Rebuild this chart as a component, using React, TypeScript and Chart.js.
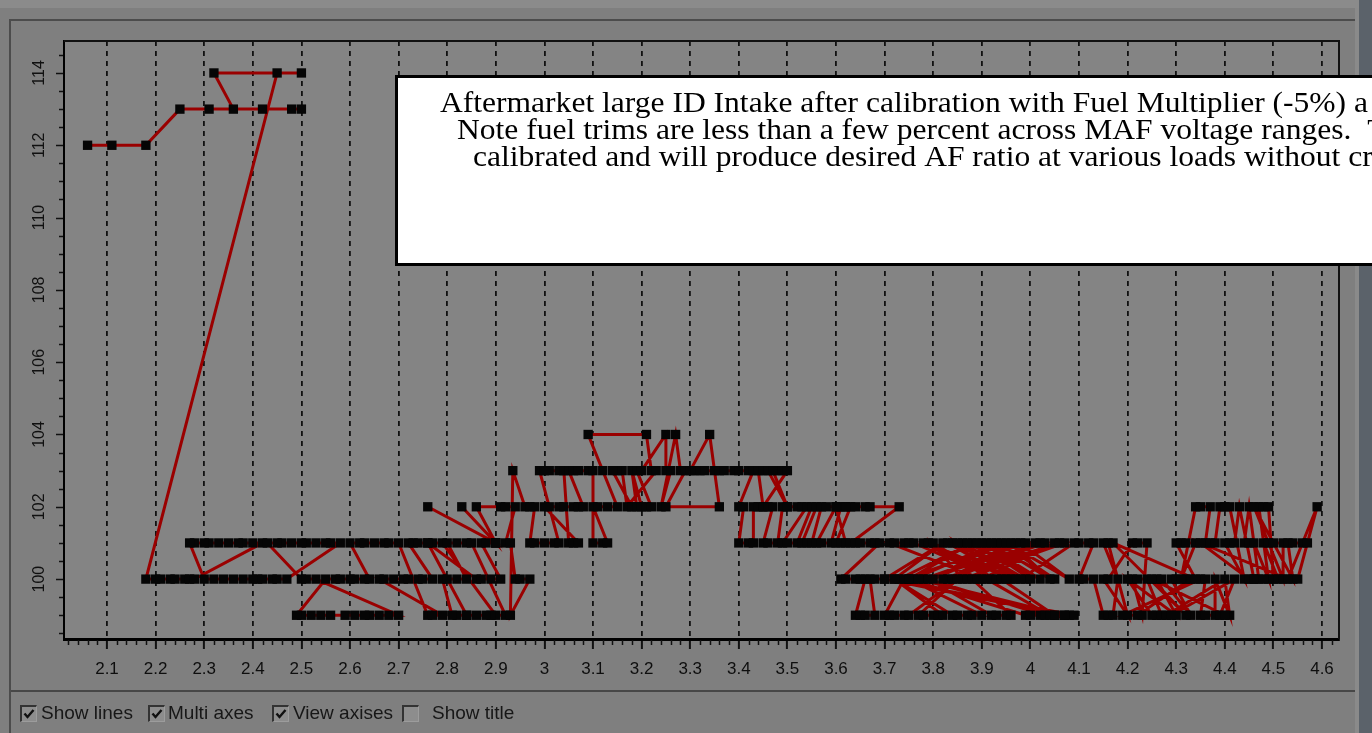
import React, { useEffect, useRef } from 'react';
import { Chart, registerables } from 'chart.js';

Chart.register(...registerables);

// Each run: [fuel trim level, MAF volts logged at that level, in log order]
type Run = [number, number[]];

const coldStart: Run[] = [
  [112, [2.06, 2.11, 2.18]],
  [113, [2.25, 2.31, 2.42, 2.5, 2.48, 2.36]],
  [114, [2.32, 2.5, 2.45]],
];

const idleLow: Run[] = [
  [100, [2.18, 2.2, 2.21, 2.23, 2.24, 2.26, 2.27, 2.28]],
  [101, [2.42, 2.4, 2.38, 2.37, 2.35, 2.33, 2.31, 2.3, 2.28, 2.27]],
  [100, [2.3, 2.32, 2.34, 2.36, 2.38, 2.4, 2.41, 2.42, 2.44, 2.45, 2.47]],
  [101, [2.58, 2.56, 2.55, 2.53, 2.51, 2.5, 2.48, 2.46, 2.45, 2.43]],
  [100, [2.5, 2.51, 2.53]],
  [99, [2.7, 2.68, 2.66, 2.64, 2.63, 2.61, 2.59, 2.56, 2.54, 2.52, 2.5, 2.49]],
  [100, [2.55, 2.57, 2.58, 2.6, 2.61, 2.63, 2.64]],
  [101, [2.6, 2.62, 2.63, 2.65, 2.67, 2.68, 2.7]],
  [99, [2.76, 2.77, 2.79]],
  [100, [2.66, 2.67, 2.69, 2.71, 2.72, 2.74, 2.75, 2.77]],
  [101, [2.72, 2.73, 2.74, 2.76, 2.77, 2.79]],
  [99, [2.9, 2.89, 2.88, 2.86, 2.84, 2.82, 2.81]],
  [100, [2.79, 2.8, 2.82, 2.84]],
  [101, [2.8, 2.82, 2.84, 2.85]],
  [99, [2.92, 2.84]],
  [101, [2.76]],
  [100, [2.86, 2.87, 2.89, 2.91]],
  [101, [2.87, 2.88, 2.9]],
  [102, [2.76]],
  [101, [2.9]],
  [102, [2.83]],
  [101, [2.9]],
  [102, [2.86, 2.91, 2.92, 2.94]],
  [101, [2.92, 2.93]],
  [100, [2.94, 2.95, 2.97]],
  [99, [2.93]],
  [103, [2.935]],
];

const midLoad: Run[] = [
  [102, [2.96, 2.97, 2.98]],
  [101, [2.97, 2.98, 3.0, 3.02, 3.03]],
  [103, [2.99, 3.0, 3.01, 3.03, 3.04]],
  [101, [3.05, 3.06, 3.07]],
  [102, [3.0, 3.01, 3.03, 3.04, 3.06, 3.07, 3.08]],
  [103, [3.05, 3.06, 3.07, 3.09, 3.1]],
  [101, [3.1, 3.12, 3.13]],
  [102, [3.1, 3.11, 3.13, 3.15]],
  [103, [3.12]],
  [104, [3.09, 3.21]],
  [103, [3.22, 3.23]],
  [102, [3.17]],
  [103, [3.16, 3.15, 3.14]],
  [102, [3.18, 3.19]],
  [103, [3.18]],
  [102, [3.2, 3.21, 3.22]],
  [103, [3.19, 3.2]],
  [104, [3.25]],
  [103, [3.25, 3.26]],
  [102, [3.24]],
  [104, [3.27]],
  [103, [3.28, 3.29]],
  [102, [3.25, 3.36]],
  [104, [3.34]],
  [103, [3.3, 3.31, 3.32, 3.33, 3.35, 3.36, 3.37]],
];

const cruise: Run[] = [
  [103, [3.39, 3.4, 3.42, 3.43]],
  [102, [3.4, 3.41]],
  [101, [3.4, 3.42, 3.43]],
  [102, [3.43, 3.44, 3.45]],
  [103, [3.44, 3.45, 3.46]],
  [102, [3.5]],
  [103, [3.47, 3.48, 3.49, 3.5]],
  [102, [3.45, 3.46, 3.47]],
  [101, [3.45, 3.46, 3.48]],
  [102, [3.49, 3.5, 3.52, 3.53, 3.54]],
  [101, [3.49, 3.5, 3.52]],
  [102, [3.55, 3.56]],
  [101, [3.53, 3.54, 3.55]],
  [102, [3.57, 3.58, 3.6]],
  [101, [3.56, 3.57, 3.59]],
  [102, [3.61, 3.62, 3.63]],
  [101, [3.6, 3.61, 3.62]],
  [102, [3.6, 3.62, 3.64, 3.66, 3.67, 3.73]],
  [101, [3.63, 3.64, 3.65, 3.67, 3.68, 3.69]],
  [100, [3.61, 3.62, 3.64, 3.65, 3.66]],
];

const denseCruise: Run[] = [
  [99, [3.64, 3.65, 3.66, 3.68]],
  [100, [3.67, 3.68, 3.7]],
  [101, [3.82]],
  [100, [3.72, 3.73]],
  [101, [3.88]],
  [100, [3.75, 3.76]],
  [101, [3.93]],
  [100, [3.8]],
  [101, [3.97]],
  [100, [3.83, 3.84]],
  [101, [4.01]],
  [100, [3.87]],
  [101, [4.05]],
  [100, [3.9]],
  [101, [3.71, 3.72, 3.74, 3.75, 3.76]],
  [100, [3.93]],
  [101, [3.78, 3.79]],
  [100, [3.96]],
  [101, [3.83, 3.84]],
  [100, [3.99]],
  [101, [3.86, 3.87]],
  [100, [4.02]],
  [101, [3.9, 3.91]],
  [100, [4.05]],
  [101, [3.94, 3.95]],
  [100, [4.08]],
  [101, [3.98, 3.99]],
  [100, [3.78]],
  [101, [4.02, 4.03]],
  [100, [3.82]],
  [101, [4.06, 4.07]],
  [100, [3.86]],
  [101, [3.8]],
  [100, [3.92]],
  [101, [3.85]],
  [100, [3.97]],
  [101, [3.89]],
  [100, [4.0]],
  [101, [3.92]],
  [100, [4.04]],
  [101, [3.96]],
  [100, [3.74]],
  [99, [3.7, 3.71, 3.72, 3.74, 3.75]],
  [100, [3.85]],
  [99, [3.77, 3.78, 3.8, 3.81, 3.82]],
  [100, [3.72]],
  [99, [3.84, 3.85, 3.87, 3.88, 3.9]],
  [100, [3.75]],
  [99, [3.99, 4.0, 4.02, 4.03]],
  [100, [3.79]],
  [99, [3.92, 3.93, 3.95, 3.96]],
  [100, [3.88, 3.89, 3.91]],
  [99, [4.04, 4.05, 4.07, 4.08, 4.09]],
  [100, [3.7]],
  [99, [4.07]],
  [100, [3.77]],
  [99, [4.05]],
  [100, [3.94, 3.95, 3.98]],
  [101, [4.09, 4.1, 4.12, 4.13]],
];

const tipIn: Run[] = [
  [100, [4.1, 4.11, 4.13]],
  [99, [4.15, 4.16, 4.17]],
  [100, [4.18]],
  [101, [4.15, 4.16]],
  [99, [4.2]],
  [100, [4.15, 4.16]],
  [101, [4.21, 4.22, 4.24]],
  [99, [4.23]],
  [100, [4.21, 4.22, 4.24]],
  [99, [4.27, 4.26, 4.25]],
  [100, [4.2]],
  [99, [4.3]],
  [100, [4.26, 4.27]],
  [99, [4.33]],
  [100, [4.29, 4.3, 4.32, 4.33]],
  [99, [4.22, 4.19]],
  [100, [4.35, 4.36]],
  [99, [4.35, 4.36, 4.38]],
  [100, [4.38]],
  [99, [4.41]],
  [100, [4.4]],
  [99, [4.28, 4.29]],
  [100, [4.42]],
  [99, [4.39, 4.4]],
  [100, [4.25]],
  [99, [4.32]],
  [101, [4.17]],
  [100, [4.34]],
];

const highLoad: Run[] = [
  [101, [4.3, 4.31, 4.32, 4.34]],
  [100, [4.31]],
  [102, [4.34, 4.35, 4.37]],
  [101, [4.36, 4.37, 4.38]],
  [102, [4.39, 4.4, 4.41]],
  [100, [4.44]],
  [101, [4.4, 4.41, 4.42]],
  [102, [4.43]],
  [100, [4.46, 4.47]],
  [102, [4.45]],
  [101, [4.44, 4.45, 4.46]],
  [100, [4.49]],
  [102, [4.47, 4.48, 4.49]],
  [100, [4.5, 4.51]],
  [101, [4.48, 4.49, 4.5, 4.52]],
  [100, [4.52]],
  [102, [4.46]],
  [100, [4.54]],
  [101, [4.53, 4.54, 4.56, 4.57]],
  [100, [4.55]],
  [102, [4.59]],
  [100, [4.53]],
  [101, [4.35]],
  [100, [4.45, 4.46, 4.48]],
];

const logSegments: Run[][] = [coldStart, idleLow, midLoad, cruise, denseCruise, tipIn, highLoad];

const voltsRange = [2.0115, 4.635];
const trimRange = [98.343, 114.884];
const voltsStep = 0.1;
const trimStep = 2;

const noteLines = [
  'Aftermarket large ID Intake after calibration with Fuel Multiplier (-5%) a',
  'Note fuel trims are less than a few percent across MAF voltage ranges.  T',
  'calibrated and will produce desired AF ratio at various loads without cr',
];

const optionLabels = ['Show lines', 'Multi axes', 'View axises', 'Show title'];
const optionChecked = [true, true, true, false];

const W = 1372;
const H = 691;
const SANS = '"Liberation Sans", Arial, sans-serif';
const SERIF = '"Liberation Serif", "Times New Roman", Times, serif';

const framePlugin = {
  id: 'frame',
  beforeDraw(chart: any) {
    const { ctx, chartArea: a } = chart;
    ctx.save();
    ctx.fillStyle = '#7f7f7f';
    ctx.fillRect(0, 0, W, H);
    ctx.fillStyle = '#8b8b8b';
    ctx.fillRect(0, 0, W, 8);
    ctx.fillStyle = '#8a8a8a';
    ctx.fillRect(1355, 8, 5, H);
    ctx.fillStyle = '#5b626a';
    ctx.fillRect(1359, 0, W - 1359, H);
    ctx.strokeStyle = '#4c4c4c';
    ctx.lineWidth = 2;
    ctx.beginPath();
    ctx.moveTo(10, H);
    ctx.lineTo(10, 20);
    ctx.lineTo(1355, 20);
    ctx.stroke();
    ctx.fillStyle = '#848484';
    ctx.fillRect(a.left, a.top, a.right - a.left, a.bottom - a.top);
    ctx.restore();
  },
  afterDraw(chart: any) {
    const { ctx, chartArea: a } = chart;
    const xs = chart.scales.x;
    const ys = chart.scales.y;
    ctx.save();
    ctx.strokeStyle = '#111';
    ctx.lineWidth = 2;
    ctx.beginPath();
    ctx.moveTo(a.left, a.top);
    ctx.lineTo(a.right, a.top);
    ctx.lineTo(a.right, a.bottom);
    ctx.stroke();

    // minor x ticks
    ctx.lineWidth = 1.5;
    ctx.beginPath();
    for (let i = Math.ceil(xs.min * 50); i <= Math.floor(xs.max * 50); i++) {
      if (i % 5 === 0) continue;
      const px = Math.round(xs.getPixelForValue(i / 50)) + 0.5;
      ctx.moveTo(px, a.bottom + 1);
      ctx.lineTo(px, a.bottom + 6);
    }
    ctx.stroke();

    // y ticks
    ctx.beginPath();
    for (let i = Math.ceil(ys.min * 2); i <= Math.floor(ys.max * 2); i++) {
      const py = Math.round(ys.getPixelForValue(i / 2)) + 0.5;
      const len = i % 4 === 0 ? 8 : 5;
      ctx.moveTo(a.left - len, py);
      ctx.lineTo(a.left - 1, py);
    }
    ctx.stroke();

    // rotated y labels
    ctx.fillStyle = '#101010';
    ctx.font = '16px ' + SANS;
    ctx.textAlign = 'center';
    ctx.textBaseline = 'middle';
    ys.ticks.forEach((t: any) => {
      const py = ys.getPixelForValue(t.value);
      ctx.save();
      ctx.translate(40, py);
      ctx.rotate(-Math.PI / 2);
      ctx.fillText(String(t.value), 0, 0);
      ctx.restore();
    });

    // note box
    ctx.fillStyle = '#ffffff';
    ctx.fillRect(395, 75, 1100, 191);
    ctx.strokeStyle = '#000';
    ctx.lineWidth = 3;
    ctx.strokeRect(396.5, 76.5, 1100, 188);
    ctx.fillStyle = '#000';
    ctx.font = '29px ' + SERIF;
    ctx.textAlign = 'left';
    ctx.textBaseline = 'alphabetic';
    const s = 928 / ctx.measureText(noteLines[0]).width;
    const startX = [440, 457, 473];
    noteLines.forEach((line, i) => {
      ctx.save();
      ctx.translate(startX[i], 112 + 27 * i);
      ctx.scale(s, 1);
      ctx.fillText(line, 0, 0);
      ctx.restore();
    });
    ctx.restore();
  },
};

export default function App() {
  const ref = useRef<HTMLCanvasElement>(null);

  useEffect(() => {
    document.body.style.margin = '0';
    const points = logSegments.flatMap((seg) =>
      seg.flatMap(([trim, volts]) => volts.map((v) => ({ x: v, y: trim })))
    );
    const chart = new Chart(ref.current as HTMLCanvasElement, {
      type: 'scatter',
      data: {
        datasets: [
          {
            data: points,
            showLine: true,
            borderColor: '#9a0000',
            borderWidth: 3,
            tension: 0,
            pointStyle: 'rect',
            pointRadius: 6.6,
            pointBackgroundColor: '#050505',
            pointBorderColor: '#050505',
            pointBorderWidth: 0,
          },
        ],
      },
      options: {
        responsive: false,
        animation: false,
        devicePixelRatio: 1,
        events: [],
        layout: { padding: { left: 44, right: 33, top: 41, bottom: 12 } },
        plugins: { legend: { display: false }, tooltip: { enabled: false }, title: { display: false } },
        scales: {
          x: {
            type: 'linear',
            min: voltsRange[0],
            max: voltsRange[1],
            afterFit: (s: any) => {
              s.height = 40;
            },
            ticks: {
              stepSize: voltsStep,
              autoSkip: false,
              maxRotation: 0,
              minRotation: 0,
              includeBounds: false,
              padding: 10,
              color: '#0e0e0e',
              font: { family: SANS, size: 17 },
              callback: (v: any) => String(Math.round(Number(v) * 10) / 10),
            },
            grid: {
              display: true,
              drawOnChartArea: true,
              color: '#111',
              lineWidth: 1.8,
              drawTicks: true,
              tickLength: 10,
              tickColor: '#111',
              tickWidth: 2,
            },
            border: { display: true, color: '#000', width: 3, dash: [5, 5] },
          },
          y: {
            type: 'linear',
            min: trimRange[0],
            max: trimRange[1],
            afterFit: (s: any) => {
              s.width = 20;
            },
            ticks: { display: false, stepSize: trimStep, includeBounds: false },
            grid: { display: false },
            border: { display: true, color: '#000', width: 2 },
          },
        },
      },
      plugins: [framePlugin],
    } as any);
    return () => chart.destroy();
  }, []);

  const boxX = [20, 148, 272, 402];
  const labelX = [41, 168, 293, 432];

  return (
    <div
      style={{
        position: 'relative',
        width: W,
        height: 733,
        overflow: 'hidden',
        background: '#7f7f7f',
        fontFamily: SANS,
      }}
    >
      <canvas
        ref={ref}
        width={W}
        height={H}
        style={{ position: 'absolute', left: 0, top: 0, width: W, height: H, display: 'block' }}
      />
      <div style={{ position: 'absolute', left: 10, top: 690, width: 1345, height: 2, background: '#474747' }} />
      <div style={{ position: 'absolute', left: 9, top: 690, width: 2, height: 43, background: '#4c4c4c' }} />
      <div style={{ position: 'absolute', left: 1355, top: 691, width: 5, height: 42, background: '#8a8a8a' }} />
      <div style={{ position: 'absolute', left: 1359, top: 691, width: 13, height: 42, background: '#5b626a' }} />
      {optionLabels.map((label, i) => (
        <React.Fragment key={label}>
          <div
            style={{
              position: 'absolute',
              left: boxX[i],
              top: 705,
              width: 14,
              height: 14,
              background: '#8d8d8d',
              borderTop: '2px solid #333',
              borderLeft: '2px solid #333',
              borderRight: '1px solid #9c9c9c',
              borderBottom: '1px solid #9c9c9c',
            }}
          >
            {optionChecked[i] ? (
              <svg width="14" height="14" style={{ display: 'block' }}>
                <path d="M2.5 6.5 L5.5 10 L11.5 3" stroke="#111" strokeWidth="2.4" fill="none" />
              </svg>
            ) : null}
          </div>
          <div
            style={{
              position: 'absolute',
              left: labelX[i],
              top: 702,
              height: 22,
              lineHeight: '22px',
              fontSize: 19,
              color: '#171717',
              whiteSpace: 'nowrap',
            }}
          >
            {label}
          </div>
        </React.Fragment>
      ))}
    </div>
  );
}
